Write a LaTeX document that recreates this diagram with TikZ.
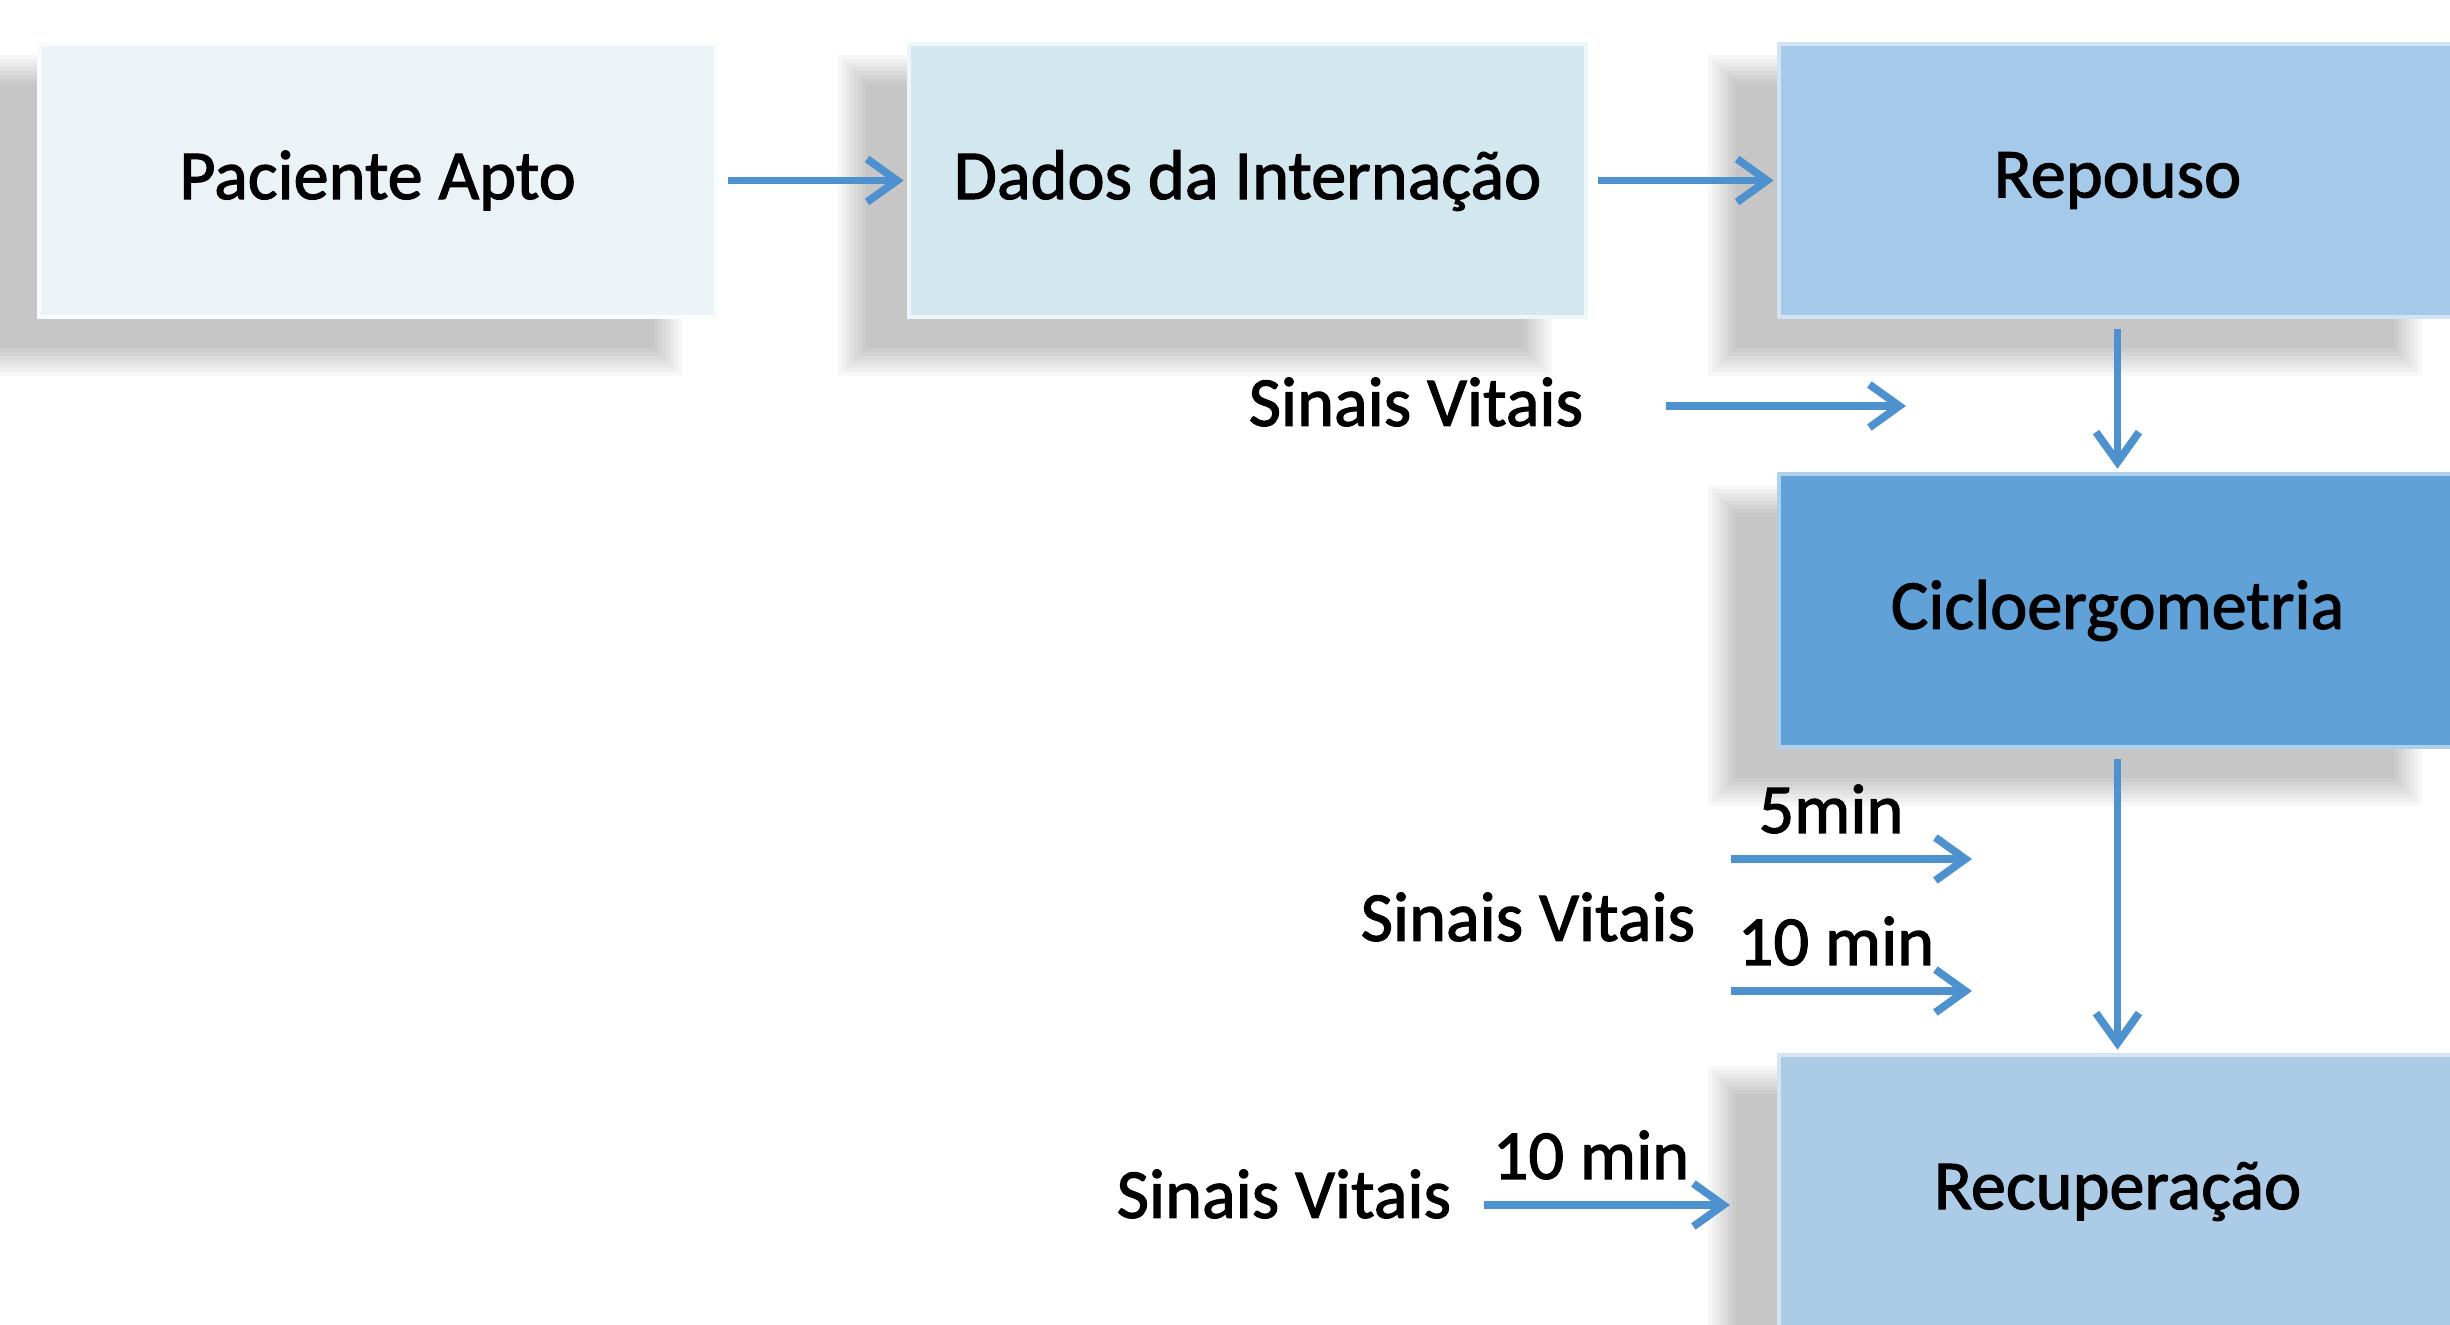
\documentclass[tikz,border=0pt]{standalone}
\usepackage{fontspec}
\setmainfont{Carlito}[FakeBold=1.6]
\usepackage{tikz}
\usetikzlibrary{arrows.meta}
\usetikzlibrary{backgrounds}
\usetikzlibrary{positioning,calc}
\definecolor{pale1}{RGB}{236,243,246}
\definecolor{pale2}{RGB}{210,232,238}
\definecolor{blueA}{RGB}{165,201,233}
\definecolor{blueB}{RGB}{96,161,216}
\definecolor{blueC}{RGB}{171,203,231}
\definecolor{arrowblue}{RGB}{78,145,207}
\tikzstyle{stage} = [rectangle, fill=pale1, draw=white!70!pale1, line width=1pt, minimum width=6.77cm, minimum height=2.73cm, inner sep=0pt, font=\fontsize{20}{24}\selectfont]
\tikzstyle{stage2} = [stage, fill=pale2, draw=white!60!pale2]
\tikzstyle{stage3} = [stage, fill=blueA, draw=white!50!blueA]
\tikzstyle{stage4} = [stage, fill=blueB, draw=white!50!blueB]
\tikzstyle{stage5} = [stage, fill=blueC, draw=white!50!blueC]
\tikzstyle{shade_layer} = [fill=black, opacity=0.03]
\tikzstyle{note} = [font=\fontsize{20}{24}\selectfont, inner sep=0pt]
\tikzstyle{arrow_flow} = [->, draw=arrowblue, line width=2.2pt, shorten >=1pt, shorten <=3pt]
\tikzstyle{arrow_note} = [->, draw=arrowblue, line width=2.2pt]

\begin{document}
\begin{tikzpicture}[-, >={Straight Barb[length=3mm,width=4.3mm]}, node distance=8.7cm]
      \useasboundingbox (0,0) rectangle (24.5,-13.25);
      \clip (0,0) rectangle (24.5,-13.25);

      \node[stage]  (paciente) at (3.775,-1.805) {Paciente Apto};
      \node[stage2] (dados)    [right of=paciente] {Dados da Internação};
      \node[stage3] (repouso)  [right of=dados] {Repouso};
      \node[stage4] (ciclo)    [below of=repouso, node distance=4.3cm] {Cicloergometria};
      \node[stage5] (recup)    [below of=ciclo, node distance=5.81cm] {Recuperação};

      % Soft shadows
      \begin{scope}[on background layer]
        \foreach \b in {paciente,dados,repouso,ciclo,recup}
          \foreach \k in {0,...,7} {
            \pgfmathsetmacro\d{0.14-\k*0.04}
            \fill[shade_layer] ($(\b.south west)+(-0.55-\d,-0.43-\d)$) rectangle ($(\b.north east)+(-0.5+\d,-0.27+\d)$);
          }
      \end{scope}

      % Flow arrows
      \path[arrow_flow] (paciente) -- (dados);
      \path[arrow_flow] (dados) -- (repouso);
      \path[arrow_flow] (repouso) -- (ciclo);
      \path[arrow_flow] (ciclo) -- (recup);

      % Vital signs
      \node[note] (sv1)  at (14.16,-4.02)  {Sinais Vitais};
      \node[note] (sv2)  at (15.28,-9.17)  {Sinais Vitais};
      \node[note] (sv3)  at (12.84,-11.94) {Sinais Vitais};
      \node[note] (t5)   at (18.31,-8.09)  {5min};
      \node[note] (t10a) at (18.36,-9.41)  {10 min};
      \node[note] (t10b) at (15.91,-11.55) {10 min};

      \coordinate (s1) at (16.66,-4.06);  \coordinate (e1) at (19.06,-4.06);
      \coordinate (s2) at (17.31,-8.59);  \coordinate (e2) at (19.72,-8.59);
      \coordinate (s3) at (17.31,-9.91);  \coordinate (e3) at (19.72,-9.91);
      \coordinate (s4) at (14.84,-12.05); \coordinate (e4) at (17.30,-12.05);
      \path[arrow_note] (s1) -- (e1);
      \path[arrow_note] (s2) -- (e2);
      \path[arrow_note] (s3) -- (e3);
      \path[arrow_note] (s4) -- (e4);

    \end{tikzpicture}
\end{document}
